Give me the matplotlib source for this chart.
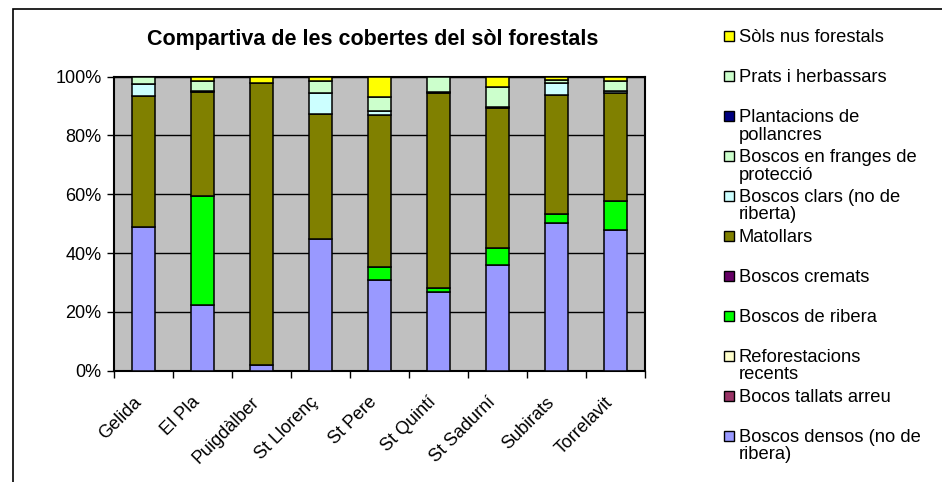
import numpy as np
import matplotlib
matplotlib.use("Agg")
import matplotlib.pyplot as plt
from matplotlib.patches import Rectangle
from matplotlib.ticker import PercentFormatter
from matplotlib.transforms import ScaledTranslation

plt.rcParams['font.family'] = ['Liberation Sans', 'DejaVu Sans']

# municipis
municipis = ['Gelida', 'El Pla', 'Puigdàlber', 'St Llorenç', 'St Pere',
             'St Quintí', 'St Sadurní', 'Subirats', 'Torrelavit']

# percentatges per coberta (de baix a dalt de la pila)
boscos_densos = [49.0, 22.3, 1.9, 44.8, 30.8, 26.9, 36.0, 50.3, 47.9]
bocos_tallats = [0, 0, 0, 0, 0, 0, 0, 0, 0]
reforestacions = [0, 0, 0, 0, 0, 0, 0, 0, 0]
boscos_ribera = [0, 37.1, 0, 0, 4.4, 1.3, 5.8, 3.0, 9.9]
boscos_cremats = [0, 0, 0, 0, 0, 0, 0, 0, 0]
matollars = [44.4, 35.3, 96.1, 42.5, 51.7, 66.1, 47.4, 40.5, 36.5]
boscos_clars = [4.1, 0, 0, 7.2, 1.5, 0, 0, 4.0, 1.0]
boscos_franges = [0, 0, 0, 0, 0, 0, 0, 0, 0]
plantacions = [0, 0.4, 0, 0, 0, 0.5, 0.5, 0, 0]
prats = [2.5, 3.6, 0, 4.0, 4.6, 5.2, 6.8, 1.2, 3.4]
sols_nus = [0, 1.3, 2.0, 1.5, 7.0, 0, 3.5, 1.0, 1.3]

series = [
    ('Boscos densos (no de\nribera)', boscos_densos, '#9999FF'),
    ('Bocos tallats arreu', bocos_tallats, '#993366'),
    ('Reforestacions\nrecents', reforestacions, '#FFFFCC'),
    ('Boscos de ribera', boscos_ribera, '#00FF00'),
    ('Boscos cremats', boscos_cremats, '#660066'),
    ('Matollars', matollars, '#808000'),
    ('Boscos clars (no de\nriberta)', boscos_clars, '#CCFFFF'),
    ('Boscos en franges de\nprotecció', boscos_franges, '#CCFFCC'),
    ('Plantacions de\npollancres', plantacions, '#000080'),
    ('Prats i herbassars', prats, '#CCFFCC'),
    ('Sòls nus forestals', sols_nus, '#FFFF00'),
]

W, H = 942, 482
fig = plt.figure(figsize=(W / 100, H / 100), dpi=100)
ax = fig.add_axes([114 / W, 1 - 370.7 / H, (645 - 114) / W, (370.7 - 76.7) / H])
ax.set_facecolor('#C0C0C0')

x = np.arange(len(municipis))
bottom = np.zeros(len(municipis))
for label, vals, color in series:
    vals = np.array(vals, dtype=float)
    m = vals > 0
    if m.any():
        ax.bar(x[m], vals[m], bottom=bottom[m], width=0.39, color=color,
               edgecolor='black', linewidth=1.1, zorder=3)
    bottom += vals

ax.set_xlim(-0.5, len(municipis) - 0.5)
ax.set_ylim(0, 100)
ax.set_yticks(np.arange(0, 101, 20))
ax.yaxis.set_major_formatter(PercentFormatter(decimals=0))
ax.grid(axis='y', color='black', linewidth=1, zorder=1)
ax.set_xticks(x)
ax.set_xticklabels(municipis, rotation=45, ha='right', va='top', rotation_mode='anchor')
ax.set_xticks(np.arange(-0.5, len(municipis)), minor=True)
ax.tick_params(axis='x', which='major', length=0, pad=8, labelsize=13)
ax.tick_params(axis='x', which='minor', length=5, width=1)
ax.tick_params(axis='y', length=5, width=1, labelsize=13, pad=4)
shift = ScaledTranslation(-0.11, -0.12, fig.dpi_scale_trans)
for lab in ax.get_xticklabels():
    lab.set_transform(lab.get_transform() + shift)
for s in ax.spines.values():
    s.set_linewidth(1.5)

# titol
fig.text(373 / W, 1 - 40 / H, 'Compartiva de les cobertes del sòl forestals',
         ha='center', va='center', fontsize=15.5, fontweight='bold')

# llegenda (ordre invers)
y0 = 36
for i, (label, vals, color) in enumerate(reversed(series)):
    yc = y0 + i * 39.95
    fig.add_artist(Rectangle((723.5 / W, 1 - (yc + 5) / H), 10 / W, 10 / H,
                             transform=fig.transFigure, facecolor=color,
                             edgecolor='black', linewidth=1))
    fig.text(739 / W, 1 - (yc - 7) / H, label, ha='left', va='top',
             fontsize=13.2, linespacing=1.05)

# marc exterior
fig.add_artist(Rectangle((13 / W, -0.1), 1.2, 1 - 9 / H + 0.1,
                         transform=fig.transFigure, fill=False,
                         edgecolor='black', linewidth=1.2))

fig.savefig('out.png', dpi=100)
